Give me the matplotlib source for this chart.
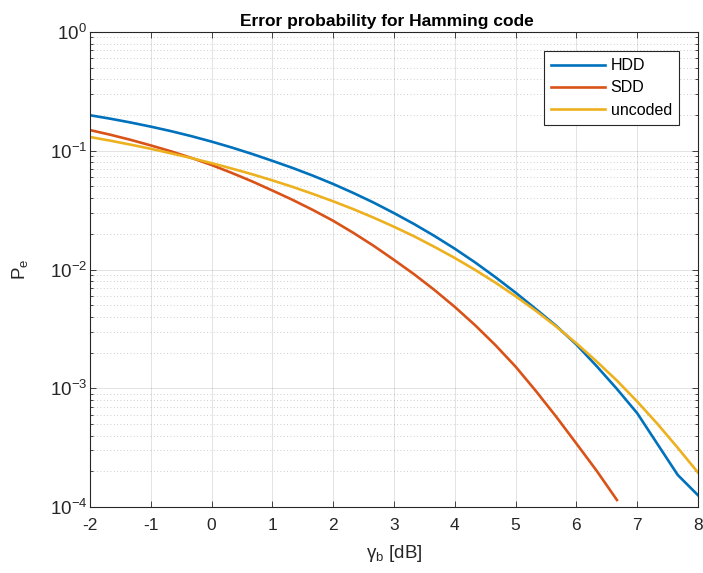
import numpy as np
import matplotlib
matplotlib.use("Agg")
import matplotlib.pyplot as plt
from matplotlib.ticker import LogLocator, NullFormatter

plt.rcParams['font.family'] = ['Liberation Sans', 'DejaVu Sans']
plt.rcParams['mathtext.default'] = 'regular'
plt.rcParams['axes.unicode_minus'] = False

# Eb/N0 grid (dB), 1/3 dB steps
gamma_db = [-2, -5/3, -4/3, -1, -2/3, -1/3, 0, 1/3, 2/3, 1, 4/3, 5/3, 2, 7/3, 8/3, 3,
            10/3, 11/3, 4, 13/3, 14/3, 5, 16/3, 17/3, 6, 19/3, 20/3, 7, 22/3, 23/3, 8]

# log10 of error probabilities
hdd_log10 = [-0.701, -0.730, -0.762, -0.797, -0.835, -0.877, -0.923, -0.973, -1.027,
             -1.085, -1.145, -1.210, -1.280, -1.356, -1.437, -1.525, -1.618, -1.718,
             -1.825, -1.940, -2.064, -2.195, -2.333, -2.474, -2.632, -2.814, -3.006,
             -3.210, -3.470, -3.730, -3.901]
sdd_log10 = [-0.826, -0.865, -0.908, -0.955, -1.005, -1.060, -1.120, -1.187, -1.258,
             -1.335, -1.414, -1.499, -1.590, -1.692, -1.801, -1.919, -2.041, -2.173,
             -2.315, -2.469, -2.636, -2.818, -3.023, -3.239, -3.466, -3.695, -3.941]
uncoded = [0.1306, 0.1216, 0.1126, 0.1039, 0.0951, 0.0868, 0.0786, 0.0708, 0.0634,
           0.0563, 0.0496, 0.0433, 0.0375, 0.0322, 0.0273, 0.0229, 0.0190, 0.0155,
           0.0125, 0.00993, 0.00776, 0.00595, 0.00449, 0.00331, 0.00239, 0.00168,
           0.00116, 7.73e-4, 5.01e-4, 3.15e-4, 1.95e-4]

labels = ['HDD', 'SDD', 'uncoded']
colors = ['#0072BD', '#D95319', '#EDB120']

x = np.array(gamma_db)
hdd = 10.0 ** np.array(hdd_log10)
sdd = 10.0 ** np.array(sdd_log10)
unc = np.array(uncoded)

fig = plt.figure(figsize=(7.03, 5.73), dpi=100)
ax = fig.add_axes([90/703, 66/573, 608/703, 475/573])

ax.semilogy(x, hdd, color=colors[0], lw=1.9, label=labels[0])
ax.semilogy(x[:len(sdd)], sdd, color=colors[1], lw=1.9, label=labels[1])
ax.semilogy(x, unc, color=colors[2], lw=1.9, label=labels[2])

ax.set_xlim(-2, 8)
ax.set_ylim(1e-4, 1)
ax.set_xticks(range(-2, 9))
ax.yaxis.set_major_locator(LogLocator(base=10, numticks=10))
ax.yaxis.set_minor_locator(LogLocator(base=10, subs=np.arange(2, 10), numticks=20))
ax.yaxis.set_minor_formatter(NullFormatter())

ax.grid(True, which='major', color='#262626', alpha=0.15, lw=0.6, ls='-')
ax.grid(True, which='minor', axis='y', color='#262626', alpha=0.3, lw=0.6, ls=(0, (1, 3)))
ax.set_axisbelow(True)

for s in ax.spines.values():
    s.set_color('#262626')
    s.set_linewidth(0.8)
ax.tick_params(which='both', direction='in', top=True, right=True, colors='#262626',
               labelcolor='#262626')
ax.tick_params(which='major', length=4, width=0.6)
ax.tick_params(which='minor', length=2.5, width=0.6)
ax.tick_params(axis='x', which='major', pad=8, labelsize=12.5)
ax.tick_params(axis='y', which='major', pad=2, labelsize=13.5)

ax.set_title('Error probability for Hamming code', fontsize=12.5, fontweight='bold',
             pad=4, x=0.489)
ax.set_xlabel(r'$\gamma_b$ [dB]', fontsize=13.5, color='#262626', labelpad=7)
ax.set_ylabel(r'$P_e$', fontsize=13.5, color='#262626', labelpad=14)

leg = ax.legend(loc='upper right', bbox_to_anchor=(0.969, 0.96), borderaxespad=0,
                fancybox=False, framealpha=1, edgecolor='#262626', fontsize=11.5,
                handlelength=3.4, handletextpad=0.35, borderpad=0.45, labelspacing=0.45)
leg.get_frame().set_linewidth(0.8)

fig.savefig('out.png', dpi=100)
